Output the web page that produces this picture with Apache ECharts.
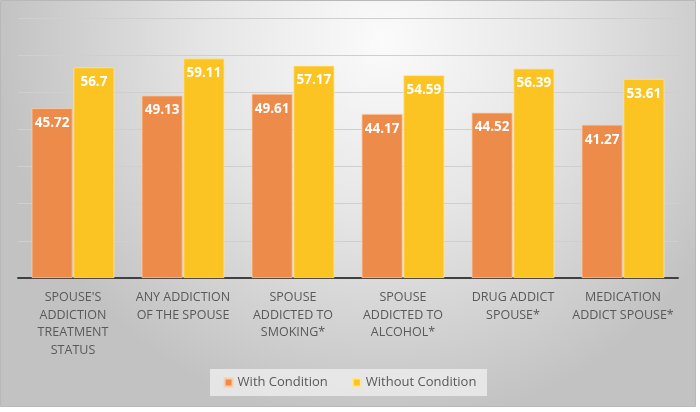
<!DOCTYPE html>
<html>
<head>
<meta charset="utf-8">
<script src="https://cdn.jsdelivr.net/npm/echarts@6/dist/echarts.min.js"></script>
<style>
html,body{margin:0;padding:0;background:#fff;}
#c{width:700px;height:412px;}
</style>
</head>
<body>
<div id="c"></div>
<script>
const categories = ["SPOUSE'S\nADDICTION\nTREATMENT\nSTATUS", "ANY ADDICTION\nOF THE SPOUSE", "SPOUSE\nADDICTED TO\nSMOKING*", "SPOUSE\nADDICTED TO\nALCOHOL*", "DRUG ADDICT\nSPOUSE*", "MEDICATION\nADDICT SPOUSE*"];
const withCondition = [45.72, 49.13, 49.61, 44.17, 44.52, 41.27];
const withoutCondition = [56.7, 59.11, 57.17, 54.59, 56.39, 53.61];
const seriesNames = ["With Condition", "Without Condition"];

const chart = echarts.init(document.getElementById('c'), null, {renderer: 'canvas'});
const labelStyle = {show: true, position: 'insideTop', distance: 8, color: '#ffffff', fontFamily: 'Open Sans', fontWeight: 'bold', fontSize: 13.5};
chart.setOption({
  animation: false,
  graphic: [{
    type: 'rect', z: -10, silent: true,
    shape: {x: 0.5, y: 0.5, width: 695, height: 406},
    style: {
      fill: {type: 'radial', x: 0.55, y: 0.1, r: 0.95, colorStops: [
        {offset: 0, color: '#fbfbfb'}, {offset: 0.45, color: '#e6e6e6'}, {offset: 1, color: '#c2c2c2'}]},
      stroke: '#b8b8b8', lineWidth: 1
    }
  }, {
    type: 'rect', z: -5, silent: true,
    shape: {x: 210, y: 369, width: 277, height: 27},
    style: {fill: 'rgba(240,240,240,0.75)'}
  }],
  grid: {left: 18, right: 22, top: 18, bottom: 134},
  legend: {
    data: seriesNames, bottom: 18, left: 'center', itemWidth: 8, itemHeight: 8, itemGap: 24,
    icon: 'rect',
    textStyle: {color: '#595959', fontFamily: 'Open Sans', fontSize: 13}
  },
  xAxis: {
    type: 'category', data: categories,
    axisLine: {lineStyle: {color: '#404040', width: 2}},
    axisTick: {show: false},
    axisLabel: {color: '#595959', fontFamily: 'Open Sans', fontSize: 12.5, lineHeight: 17.5, margin: 11, interval: 0}
  },
  yAxis: {
    type: 'value', min: 0, max: 70, interval: 10,
    axisLabel: {show: false}, axisLine: {show: false}, axisTick: {show: false},
    splitLine: {lineStyle: {color: '#cfcfcf', width: 1}}
  },
  series: [{
    name: seriesNames[0], type: 'bar', data: withCondition, barWidth: 41, barGap: '2%',
    itemStyle: {color: '#ED8B4B', borderColor: '#f7cfae', borderWidth: 0.8},
    label: labelStyle
  }, {
    name: seriesNames[1], type: 'bar', data: withoutCondition, barWidth: 41,
    itemStyle: {color: '#FBC422', borderColor: '#fde6a0', borderWidth: 0.8},
    label: labelStyle
  }]
});
</script>
</body>
</html>
